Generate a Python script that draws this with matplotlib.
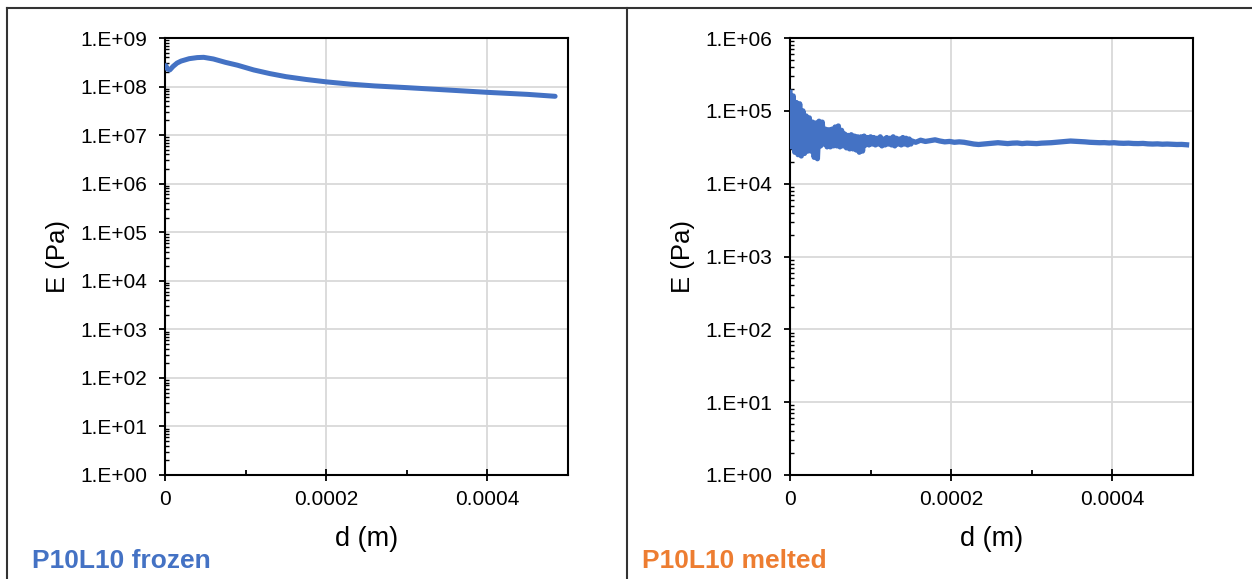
import numpy as np
import matplotlib
matplotlib.use('Agg')
import matplotlib.pyplot as plt
from matplotlib.lines import Line2D
from matplotlib.ticker import LogLocator, NullFormatter, MultipleLocator

plt.rcParams['font.family'] = ['Liberation Sans', 'DejaVu Sans']

BLUE = '#4472C4'
ORANGE = '#ED7D31'
GRID = '#d9d9d9'

# ---- frozen sample: d in micrometres, E in Pa ----
d_frozen_um = [1, 3, 6, 10, 15, 20, 30, 40, 48, 60, 75, 90, 110, 130, 150,
               175, 200, 230, 260, 300, 350, 400, 450, 484]
E_frozen = [2.7e8, 2.3e8, 2.2e8, 2.6e8, 3.05e8, 3.35e8, 3.75e8, 3.95e8, 4.0e8,
            3.7e8, 3.15e8, 2.75e8, 2.2e8, 1.85e8, 1.6e8, 1.4e8, 1.25e8,
            1.12e8, 1.03e8, 9.5e7, 8.5e7, 7.6e7, 6.9e7, 6.3e7]

# ---- melted sample: noisy signal, early part sampled every 2 um ----
# pairs (peak, trough) read off the envelope, one pair every 4 um from d = 0
E_melt_early = [
    1.8e5, 3.2e4, 1.6e5, 2.7e4, 1.3e5, 2.5e4, 1.25e5, 2.4e4,
    1.0e5, 2.6e4, 8.5e4, 2.8e4, 8.0e4, 2.8e4, 7.0e4, 2.3e4,
    6.8e4, 2.2e4, 7.2e4, 3.3e4, 7.0e4, 3.5e4, 5.6e4, 3.2e4,
    5.5e4, 3.2e4, 5.6e4, 3.3e4, 6.0e4, 3.3e4, 6.2e4, 3.2e4,
    5.4e4, 3.3e4, 4.8e4, 3.1e4, 4.6e4, 3.0e4, 4.7e4, 3.0e4,
    4.5e4, 2.9e4, 4.4e4, 2.7e4, 4.4e4, 2.8e4, 4.5e4, 3.4e4,
    4.3e4, 3.4e4, 4.4e4, 3.5e4, 4.3e4, 3.4e4, 4.2e4, 3.5e4,
    4.4e4, 3.3e4, 4.1e4, 3.4e4, 4.3e4, 3.5e4, 4.2e4, 3.4e4,
    4.4e4, 3.3e4, 4.2e4, 3.5e4, 4.1e4, 3.4e4, 4.3e4, 3.5e4,
    4.2e4, 3.4e4, 4.1e4, 3.5e4,
]
# later part, one value every 6 um from d = 150 um
E_melt_late = [
    3.9e4, 3.7e4, 3.95e4, 3.8e4, 3.9e4, 4.0e4, 3.85e4, 3.75e4, 3.8e4, 3.7e4,
    3.75e4, 3.7e4, 3.6e4, 3.5e4, 3.45e4, 3.5e4, 3.55e4, 3.6e4, 3.65e4, 3.6e4,
    3.55e4, 3.6e4, 3.62e4, 3.55e4, 3.6e4, 3.58e4, 3.55e4, 3.6e4, 3.62e4, 3.65e4,
    3.7e4, 3.75e4, 3.8e4, 3.85e4, 3.82e4, 3.78e4, 3.75e4, 3.7e4, 3.68e4, 3.65e4,
    3.66e4, 3.62e4, 3.65e4, 3.6e4, 3.58e4, 3.6e4, 3.56e4, 3.55e4, 3.57e4, 3.52e4,
    3.5e4, 3.52e4, 3.48e4, 3.5e4, 3.47e4, 3.45e4, 3.46e4, 3.42e4,
]
early_step_um, late_start_um, late_step_um = 2.0, 150.0, 6.0

x_ticks = [0, 0.0002, 0.0004]
x_tick_labels = ['0', '0.0002', '0.0004']
frozen_decades = list(range(0, 10))
melted_decades = list(range(0, 7))


def style_axes(ax, decades):
    ax.set_yscale('log')
    ax.set_xlim(0, 0.0005)
    ax.set_ylim(10.0 ** decades[0], 10.0 ** decades[-1])
    ax.set_xticks(x_ticks)
    ax.set_xticklabels(x_tick_labels)
    ax.xaxis.set_minor_locator(MultipleLocator(0.0001))
    ax.set_yticks([10.0 ** k for k in decades])
    ax.set_yticklabels(['1.E+%02d' % k for k in decades])
    ax.yaxis.set_minor_locator(LogLocator(base=10, subs=np.arange(2, 10), numticks=100))
    ax.yaxis.set_minor_formatter(NullFormatter())
    ax.grid(True, which='major', color=GRID, lw=1.3, zorder=0)
    ax.tick_params(axis='y', which='major', direction='out', length=4, width=1.3,
                   labelsize=15, pad=9)
    ax.tick_params(axis='y', which='minor', direction='in', length=3, width=1.0)
    ax.tick_params(axis='x', which='major', direction='inout', length=9, width=1.3,
                   labelsize=15, pad=6)
    ax.tick_params(axis='x', which='minor', direction='in', length=3.5, width=1.3)
    for s in ax.spines.values():
        s.set_color('black')
        s.set_linewidth(1.5)
    ax.set_xlabel('d (m)', fontsize=19.5)
    ax.set_ylabel('E (Pa)', fontsize=18.5)
    ax.xaxis.label.set_va('center')
    ax.yaxis.label.set_va('center')
    ax.xaxis.set_label_coords(0.5, -0.146)
    ax.yaxis.set_label_coords(-0.2655, 0.5)
    ax.set_axisbelow(True)


fig = plt.figure(figsize=(12.52, 5.79), dpi=100)
ax1 = fig.add_axes([165 / 1252, 1 - 475 / 579, 403 / 1252, 437 / 579])
ax2 = fig.add_axes([790 / 1252, 1 - 475 / 579, 403 / 1252, 437 / 579])

ax1.plot(np.array(d_frozen_um) * 1e-6, E_frozen, color=BLUE, lw=3.6,
         solid_capstyle='round', zorder=3)
style_axes(ax1, frozen_decades)

d_early = np.arange(len(E_melt_early)) * early_step_um
d_late = late_start_um + np.arange(len(E_melt_late)) * late_step_um
d_melt = np.concatenate([d_early, d_late]) * 1e-6
E_melt = np.concatenate([E_melt_early, E_melt_late])
ax2.plot(d_melt, E_melt, color=BLUE, lw=3.8, solid_joinstyle='round', zorder=3)
style_axes(ax2, melted_decades)

# panel frame lines
line_kw = dict(color='#333333', lw=1.5, transform=fig.transFigure)
fig.add_artist(Line2D([7 / 1252, 1], [1 - 8 / 579, 1 - 8 / 579], **line_kw))
fig.add_artist(Line2D([7 / 1252, 7 / 1252], [0, 1 - 8 / 579], **line_kw))
fig.add_artist(Line2D([627 / 1252, 627 / 1252], [0, 1 - 8 / 579], **line_kw))

fig.text(32 / 1252, 1 - 568 / 579, 'P10L10 frozen', color=BLUE, fontsize=19,
         fontweight='bold', va='baseline')
fig.text(642 / 1252, 1 - 568 / 579, 'P10L10 melted', color=ORANGE, fontsize=19,
         fontweight='bold', va='baseline')

fig.savefig('out.png', dpi=100)
